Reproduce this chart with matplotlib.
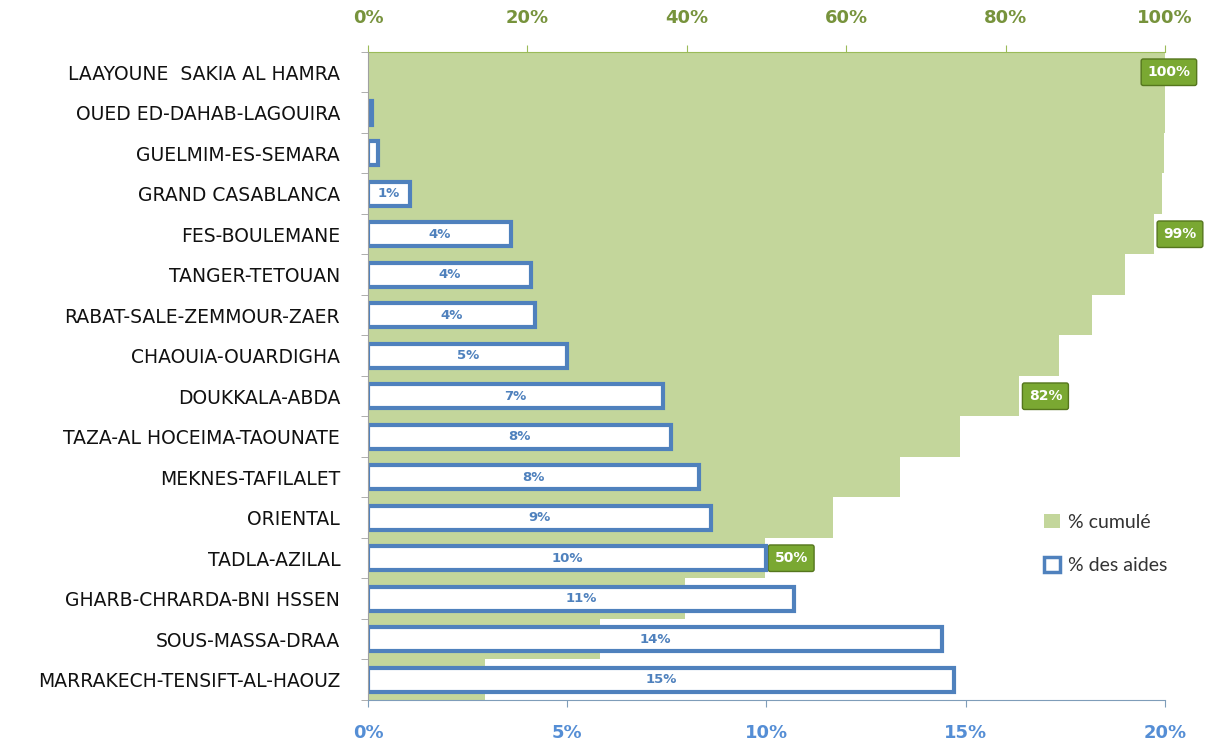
import numpy as np
import matplotlib
matplotlib.use("Agg")
import matplotlib.pyplot as plt
from matplotlib.patches import Patch

# Regions, listed top to bottom
regions = [
    "LAAYOUNE  SAKIA AL HAMRA",
    "OUED ED-DAHAB-LAGOUIRA",
    "GUELMIM-ES-SEMARA",
    "GRAND CASABLANCA",
    "FES-BOULEMANE",
    "TANGER-TETOUAN",
    "RABAT-SALE-ZEMMOUR-ZAER",
    "CHAOUIA-OUARDIGHA",
    "DOUKKALA-ABDA",
    "TAZA-AL HOCEIMA-TAOUNATE",
    "MEKNES-TAFILALET",
    "ORIENTAL",
    "TADLA-AZILAL",
    "GHARB-CHRARDA-BNI HSSEN",
    "SOUS-MASSA-DRAA",
    "MARRAKECH-TENSIFT-AL-HAOUZ",
]
# Share of aid per region (%)
share = [0.0, 0.1, 0.25, 1.05, 3.6, 4.1, 4.2, 5.0, 7.4, 7.6, 8.3, 8.6, 10.0, 10.7, 14.4, 14.7]
# Cumulative share, accumulated from the bottom row upward
cumul = np.cumsum(share[::-1])[::-1]

# Which cumulative values get a callout
callout_rows = [0, 4, 8, 12]

bottom_ticks = [0, 5, 10, 15, 20]
top_ticks = [0, 20, 40, 60, 80, 100]

GREEN = "#C3D69B"
DARK_GREEN = "#77933C"
BLUE = "#4F81BD"

fig = plt.figure(figsize=(12.15, 7.46), dpi=100)
ax = fig.add_axes([0.3029, 0.0617, 0.6559, 0.8686])
ax2 = ax.twiny()
ax.set_zorder(ax2.get_zorder() + 1)
ax.patch.set_visible(False)

y = np.arange(len(regions))

# Cumulative share: full-height green bars on the 0-100% scale
ax2.barh(y, cumul, height=1.0, color=GREEN, edgecolor="none")
ax2.set_xlim(0, 100)
for r in callout_rows:
    x_txt = cumul[r] + 1.2 if cumul[r] < 99.5 else 97.8
    ax2.text(x_txt, y[r], f"{cumul[r]:.0f}%", ha="left", va="center",
             color="white", fontsize=10, fontweight="bold", family="DejaVu Sans",
             zorder=5, clip_on=False,
             bbox=dict(boxstyle="round,pad=0.45,rounding_size=0.15",
                       facecolor="#7AA832", edgecolor="#55761D", linewidth=1))

# Share of aid: white bars with blue outline on the 0-20% scale
lw = [3 if v > 0 else 0 for v in share]
ax.barh(y, share, height=0.6, color="white", edgecolor=BLUE, linewidth=lw)
for yi, v in zip(y, share):
    if v >= 0.5:
        ax.text(v / 2, yi, f"{v:.0f}%", ha="center", va="center",
                color=BLUE, fontsize=9.5, fontweight="bold", family="DejaVu Sans")
ax.set_xlim(0, 20)
ax.set_ylim(len(regions) - 0.5, -0.5)

# Category axis
ax.set_yticks(y)
ax.set_yticklabels(regions, family="DejaVu Sans", fontsize=13.5, color="#111111")
ax.set_yticks(np.arange(len(regions) + 1) - 0.5, minor=True)
ax.tick_params(axis="y", which="major", length=0, pad=20)
ax.tick_params(axis="y", which="minor", length=5, color="#A0A0A0")

# Bottom axis (share of aid)
ax.set_xticks(bottom_ticks)
ax.set_xticklabels([f"{t}%" for t in bottom_ticks], color="#558ED5",
                   fontsize=13, fontweight="bold", family="DejaVu Sans")
ax.tick_params(axis="x", length=5, color="#7F9DB9", pad=12)

# Top axis (cumulative share)
ax2.set_xticks(top_ticks)
ax2.set_xticklabels([f"{t}%" for t in top_ticks], color=DARK_GREEN,
                    fontsize=13, fontweight="bold", family="DejaVu Sans")
ax2.tick_params(axis="x", length=5, color="#9BBB59", pad=13)

for a in (ax, ax2):
    a.spines["right"].set_visible(False)
ax.spines["top"].set_visible(False)
ax2.spines["bottom"].set_visible(False)
ax2.spines["left"].set_visible(False)
ax2.spines["top"].set_color("#9BBB59")
ax.spines["bottom"].set_color("#7F9DB9")
ax.spines["left"].set_color("#A0A0A0")

handles = [Patch(facecolor=GREEN, edgecolor="none", label="% cumulé"),
           Patch(facecolor="white", edgecolor=BLUE, linewidth=2.5, label="% des aides")]
fig.legend(handles=handles, loc="upper left", bbox_to_anchor=(0.845, 0.335),
           frameon=False, prop={"family": "Lato", "size": 14},
           handlelength=0.8, handleheight=0.8, labelspacing=1.35, handletextpad=0.4,
           labelcolor="#333333")

fig.savefig("out.png", dpi=100)
